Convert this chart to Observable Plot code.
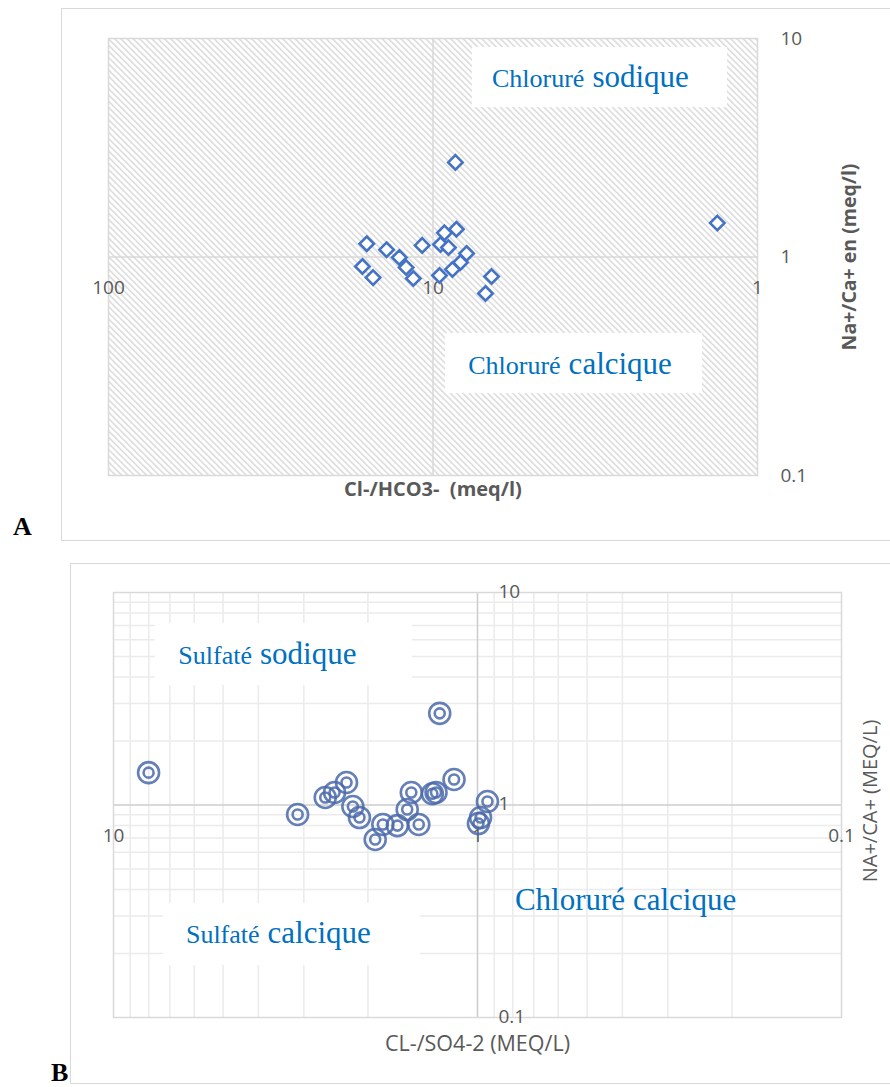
<!DOCTYPE html>
<html><head><meta charset="utf-8">
<script src="https://cdn.jsdelivr.net/npm/d3@7"></script>
<script src="https://cdn.jsdelivr.net/npm/@observablehq/plot@0.6"></script>
<style>
body{margin:0;background:#fff;}
#wrap{position:relative;width:890px;height:1087px;overflow:hidden;font-family:"Open Sans",sans-serif;}
.panel{position:absolute;left:0;}
.frame{position:absolute;border:1.5px solid #d9d9d9;box-sizing:border-box;}
.letter{position:absolute;font-family:"Liberation Serif","Times New Roman",serif;font-weight:bold;font-size:26px;color:#000;line-height:26px;}
</style></head>
<body><div id="wrap">
<div class="frame" style="left:61px;top:8px;width:840px;height:533px"></div>
<div class="frame" style="left:70px;top:563px;width:830px;height:521px"></div>
<div id="A" class="panel" style="top:0"></div>
<div id="B" class="panel" style="top:555px"></div>
<div class="letter" style="left:13px;top:514px">A</div>
<div class="letter" style="left:51px;top:1060px">B</div>
</div>
<script>
// ---------- Panel A data : Cl-/HCO3- vs Na+/Ca+ ----------
const clHco3 = [8.53, 9.22, 8.47, 16.0, 13.9, 10.8, 9.48, 8.96, 12.7, 7.88, 16.5, 12.1, 8.23, 8.71, 15.3, 11.5, 9.55, 6.6, 6.89, 1.33];
const naCaA  = [2.71, 1.29, 1.34, 1.15, 1.08, 1.13, 1.14, 1.105, 0.995, 1.038, 0.905, 0.895, 0.944, 0.877, 0.805, 0.797, 0.823, 0.814, 0.681, 1.43];
const xTicksA = [100, 10, 1];
const yTicksA = [10, 1, 0.1];
const xTitleA = "Cl-/HCO3-  (meq/l)";
const yTitleA = "Na+/Ca+ en (meq/l)";
// facies labels (data units)
const faciesA_w1 = ["Chloruré", "Chloruré"];
const faciesA_w2 = ["sodique", "calcique"];
const faciesA_x  = [3.32, 3.93];
const faciesA_y  = [6.03, 0.290];
const boxA_x1 = [7.56, 9.15], boxA_x2 = [1.237, 1.477];
const boxA_y1 = [9.10, 0.447], boxA_y2 = [4.83, 0.237];

// ---------- Panel B data : Cl-/SO4-2 vs Na+/Ca+ ----------
const clSo4 = [8.01, 3.12, 2.62, 2.47, 2.29, 2.20, 2.11, 1.91, 1.82, 1.66, 1.56, 1.52, 1.45, 1.33, 1.30, 1.27, 1.16, 0.939, 0.981, 0.994];
const naCaB = [1.42, 0.902, 1.085, 1.145, 1.276, 0.984, 0.873, 0.688, 0.81, 0.80, 0.952, 1.145, 0.81, 1.13, 1.145, 2.70, 1.318, 1.039, 0.873, 0.818];
const xTicksB = [10, 1, 0.1];
const yTicksB = [10, 1, 0.1];
const minorB = [0.2,0.3,0.4,0.5,0.6,0.7,0.8,0.9,2,3,4,5,6,7,8,9];
const xTitleB = "CL-/SO4-2 (MEQ/L)";
const yTitleB = "NA+/CA+ (MEQ/L)";
const faciesB_w1 = ["Sulfaté", "Sulfaté"];
const faciesB_w2 = ["sodique", "calcique"];
const faciesB_x  = [4.06, 3.87];
const faciesB_y  = [4.63, 0.223];
const boxB_x1 = [7.67, 7.29], boxB_x2 = [1.509, 1.434];
const boxB_y1 = [7.15, 0.344], boxB_y2 = [3.65, 0.1757];
const faciesB3 = ["Chloruré calcique"];
const faciesB3_x = [0.392], faciesB3_y = [0.319];

const blue = "#0070C0";
const grey = "#595959";
const serif = "'Liberation Serif','Times New Roman',serif";
const sans = "'Open Sans',sans-serif";
const fmt = d => String(d);

// ---------------- Panel A ----------------
const ptsA = clHco3.map((x, i) => ({x, y: naCaA[i]}));
const boxesA = boxA_x1.map((_, i) => ({x1: boxA_x1[i], x2: boxA_x2[i], y1: boxA_y1[i], y2: boxA_y2[i]}));
const labA = faciesA_x.map((x, i) => ({x, y: faciesA_y[i], w1: faciesA_w1[i], w2: faciesA_w2[i]}));

const plotA = Plot.plot({
  width: 890, height: 550,
  marginLeft: 108, marginRight: 133, marginTop: 38, marginBottom: 75,
  style: {fontFamily: sans, background: "transparent", overflow: "visible"},
  x: {type: "log", domain: [100, 1], axis: null},
  y: {type: "log", domain: [0.1, 10], axis: null},
  marks: [
    Plot.frame({fill: "url(#hatchA)", stroke: null}),
    Plot.ruleX([10], {stroke: "#d9d9d9", strokeWidth: 1.5}),
    Plot.ruleY([1], {stroke: "#d9d9d9", strokeWidth: 1.5}),
    Plot.frame({stroke: "#d9d9d9", strokeWidth: 1.5}),
    Plot.rect(boxesA, {x1: "x1", x2: "x2", y1: "y1", y2: "y2", fill: "white"}),
    Plot.text(labA, {x: "x", y: "y", text: "w1", textAnchor: "end", dx: -4, lineAnchor: "bottom", fontSize: 26, fontFamily: serif, fill: blue}),
    Plot.text(labA, {x: "x", y: "y", text: "w2", textAnchor: "start", dx: 4, lineAnchor: "bottom", fontSize: 31, fontFamily: serif, fill: blue}),
    Plot.text(xTicksA, {x: d => d, y: () => 1, dy: 31, text: fmt, fontSize: 19, fill: grey}),
    Plot.text(yTicksA, {y: d => d, frameAnchor: "right", dx: 23, textAnchor: "start", text: fmt, fontSize: 19, fill: grey}),
    Plot.text([xTitleA], {frameAnchor: "bottom", dy: 20, text: d => d, fontSize: 20, fontWeight: "bold", fill: grey}),
    Plot.text([yTitleA], {frameAnchor: "right", dx: 92, rotate: -90, textAnchor: "middle", text: d => d, fontSize: 19.5, fontWeight: "bold", fill: grey}),
    Plot.dot(ptsA, {x: "x", y: "y", symbol: "diamond2", r: 6.5, stroke: "#4472C4", strokeWidth: 2.6, fill: "white"})
  ]
});
d3.select(plotA).insert("defs", ":first-child").html(
  `<pattern id="hatchA" width="4.4" height="4.4" patternUnits="userSpaceOnUse" patternTransform="rotate(-45)">
     <rect width="4.4" height="4.4" fill="#ffffff"/>
     <rect width="1.6" height="4.4" fill="#dcdcdc"/>
   </pattern>`);
document.getElementById("A").appendChild(plotA);

// ---------------- Panel B ----------------
const ptsB = clSo4.map((x, i) => ({x, y: naCaB[i]}));
const boxesB = boxB_x1.map((_, i) => ({x1: boxB_x1[i], x2: boxB_x2[i], y1: boxB_y1[i], y2: boxB_y2[i]}));
const labB = faciesB_x.map((x, i) => ({x, y: faciesB_y[i], w1: faciesB_w1[i], w2: faciesB_w2[i]}));
const labB3 = faciesB3.map((t, i) => ({t, x: faciesB3_x[i], y: faciesB3_y[i]}));

const plotB = Plot.plot({
  width: 890, height: 532,
  marginLeft: 113, marginRight: 49, marginTop: 37, marginBottom: 70,
  style: {fontFamily: sans, background: "transparent", overflow: "visible"},
  x: {type: "log", domain: [10, 0.1], axis: null},
  y: {type: "log", domain: [0.1, 10], axis: null},
  marks: [
    Plot.ruleX(minorB, {stroke: "#ebebeb", strokeWidth: 1.5}),
    Plot.ruleY(minorB, {stroke: "#ebebeb", strokeWidth: 1.5}),
    Plot.ruleX([1], {stroke: "#cccccc", strokeWidth: 1.5}),
    Plot.ruleY([1], {stroke: "#cccccc", strokeWidth: 1.5}),
    Plot.frame({stroke: "#d9d9d9", strokeWidth: 1.5}),
    Plot.rect(boxesB, {x1: "x1", x2: "x2", y1: "y1", y2: "y2", fill: "white"}),
    Plot.text(labB, {x: "x", y: "y", text: "w1", textAnchor: "end", dx: -4, lineAnchor: "bottom", fontSize: 26, fontFamily: serif, fill: blue}),
    Plot.text(labB, {x: "x", y: "y", text: "w2", textAnchor: "start", dx: 4, lineAnchor: "bottom", fontSize: 31, fontFamily: serif, fill: blue}),
    Plot.text(labB3, {x: "x", y: "y", text: "t", lineAnchor: "bottom", fontSize: 31, fontFamily: serif, fill: blue}),
    Plot.text(xTicksB, {x: d => d, y: () => 1, dy: 31, text: fmt, fontSize: 19, fill: grey}),
    Plot.text(yTicksB, {x: () => 1, y: d => d, dx: 21, dy: -1, textAnchor: "start", text: fmt, fontSize: 19, fill: grey}),
    Plot.text([xTitleB], {frameAnchor: "bottom", dy: 33, text: d => d, fontSize: 21.5, fontFamily: "'Liberation Sans Narrow','Open Sans',sans-serif", fill: grey}),
    Plot.text([yTitleB], {frameAnchor: "right", dx: 29, dy: -4, rotate: -90, textAnchor: "middle", text: d => d, fontSize: 20, fill: grey}),
    Plot.dot(ptsB, {x: "x", y: "y", r: 10.5, stroke: "#4a69aa", strokeWidth: 2.6, strokeOpacity: 0.85, fill: "none"}),
    Plot.dot(ptsB, {x: "x", y: "y", r: 5, stroke: "#4a69aa", strokeWidth: 2.6, strokeOpacity: 0.85, fill: "none"})
  ]
});
document.getElementById("B").appendChild(plotB);
</script>
</body></html>
